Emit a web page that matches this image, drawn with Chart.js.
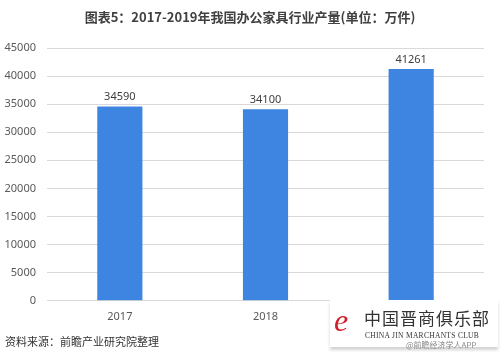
<!DOCTYPE html>
<html><head><meta charset="utf-8">
<script src="https://cdn.jsdelivr.net/npm/chart.js@4"></script>
<style>
html,body{margin:0;padding:0;background:#fff;width:500px;height:359px;overflow:hidden;font-family:"Noto Sans","Noto Sans CJK SC",sans-serif;}
#wrap{position:absolute;left:0;top:0;width:500px;height:359px;}
#title{position:absolute;left:0;top:7px;width:500px;text-align:center;font-size:13px;font-weight:bold;color:#404040;font-family:"Noto Sans CJK SC",sans-serif;}
#src{position:absolute;left:5px;top:333px;font-size:11px;color:#333;font-family:"Noto Sans CJK SC",sans-serif;}
#logo{position:absolute;left:330px;top:300px;width:168px;height:47px;background:#fff;box-shadow:0 3px 3px rgba(0,0,0,0.18);}
#logo .cn{position:absolute;left:34px;top:8px;font-size:17px;letter-spacing:1px;color:#333;font-family:"Noto Sans CJK SC",serif;line-height:20px;}
#logo .en{position:absolute;left:35px;top:31px;font-size:7.5px;color:#333;font-family:"Liberation Serif",serif;letter-spacing:0.3px;line-height:9px;}
#logo .e{position:absolute;left:4px;top:2px;font-size:32px;color:#d0202a;font-style:italic;font-family:"Liberation Serif",serif;line-height:36px;}
#app{position:absolute;left:406px;top:340px;font-size:8px;color:#888;font-family:"Noto Sans CJK SC",sans-serif;line-height:10px;}
</style></head>
<body>
<div id="wrap"><canvas id="c" width="500" height="359"></canvas></div>
<div id="title">图表5：2017-2019年我国办公家具行业产量(单位：万件)</div>
<div id="src">资料来源：前瞻产业研究院整理</div>
<div id="logo"><span class="e">e</span><span class="cn">中国晋商俱乐部</span><span class="en">CHINA JIN MARCHANTS CLUB</span></div>
<div id="app">@前瞻经济学人APP</div>
<script>
const categories = ["2017", "2018", "2019"];
const production = [34590, 34100, 41261];
const yTicks = [0, 5000, 10000, 15000, 20000, 25000, 30000, 35000, 40000, 45000];

const labelPlugin = {
  id: 'barLabels',
  afterDatasetsDraw(chart) {
    const ctx = chart.ctx;
    const meta = chart.getDatasetMeta(0);
    ctx.save();
    ctx.font = '11px "Noto Sans", sans-serif';
    ctx.fillStyle = '#404040';
    ctx.textAlign = 'center';
    ctx.textBaseline = 'bottom';
    meta.data.forEach((bar, i) => {
      ctx.fillText(String(production[i]), bar.x, bar.y - 4);
    });
    ctx.restore();
  }
};

new Chart(document.getElementById('c'), {
  type: 'bar',
  data: {
    labels: categories,
    datasets: [{
      data: production,
      backgroundColor: '#3D85E0',
      borderWidth: 0,
      barPercentage: 0.62,
      categoryPercentage: 0.5
    }]
  },
  options: {
    responsive: false,
    animation: false,
    devicePixelRatio: 1,
    layout: { padding: { top: 48, right: 16, bottom: 27, left: 0 } },
    plugins: { legend: { display: false }, tooltip: { enabled: false }, title: { display: false } },
    scales: {
      x: {
        grid: { display: false, drawTicks: false },
        border: { display: true, color: '#d9d9d9' },
        ticks: { color: '#595959', font: { size: 11, family: '"Noto Sans", sans-serif' }, padding: 9 }
      },
      y: {
        min: 0, max: 45000,
        afterBuildTicks(axis) { axis.ticks = yTicks.map(v => ({ value: v })); },
        afterFit(axis) { axis.width = 47; },
        grid: { color: '#d9d9d9', drawTicks: false },
        border: { display: false },
        ticks: { color: '#595959', font: { size: 11, family: '"Noto Sans", sans-serif' }, padding: 11,
                 callback: v => String(v) }
      }
    }
  },
  plugins: [labelPlugin]
});
</script>
</body></html>
